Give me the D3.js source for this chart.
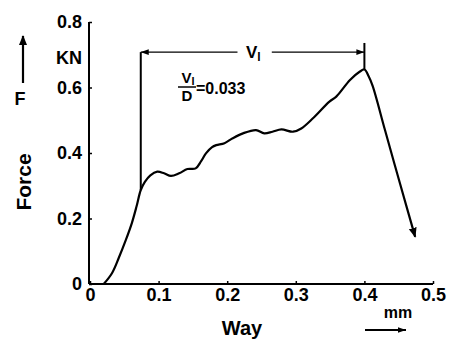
<!DOCTYPE html>
<html>
<head>
<meta charset="utf-8">
<script src="https://cdn.jsdelivr.net/npm/d3@7"></script>
<style>
  html, body { margin: 0; padding: 0; background: #fff; }
  svg { display: block; }
  text { font-family: "Liberation Sans", Arial, Helvetica, sans-serif; fill: #000; }
</style>
</head>
<body>
<svg id="chart" width="464" height="341"></svg>
<script>
// ---- data ----
const xTicks = [0, 0.1, 0.2, 0.3, 0.4, 0.5];
const xTickLabels = ["0", "0.1", "0.2", "0.3", "0.4", "0.5"];
const yTicks = [0, 0.2, 0.4, 0.6, 0.8];
const yTickLabels = ["0", "0.2", "0.4", "0.6", "0.8"];
const way = [0.020, 0.032, 0.042, 0.052, 0.061, 0.068, 0.074, 0.080, 0.088, 0.098, 0.108, 0.118, 0.130, 0.142, 0.154, 0.162, 0.169, 0.178, 0.184, 0.196, 0.208, 0.223, 0.242, 0.254, 0.266, 0.279, 0.296, 0.308, 0.325, 0.349, 0.359, 0.379, 0.393, 0.400, 0.406, 0.412, 0.430, 0.452, 0.474];
const force = [0.000, 0.033, 0.080, 0.133, 0.186, 0.238, 0.287, 0.312, 0.332, 0.343, 0.338, 0.330, 0.338, 0.351, 0.353, 0.375, 0.399, 0.418, 0.424, 0.430, 0.445, 0.460, 0.470, 0.460, 0.465, 0.472, 0.465, 0.475, 0.506, 0.557, 0.572, 0.623, 0.648, 0.655, 0.635, 0.605, 0.470, 0.306, 0.144];
const v1Start = 0.074, v1End = 0.400;
const v1StartForce = 0.287, v1EndForce = 0.655;
const v1LineForce = 0.708, v1TopForce = 0.736;
const ratioText = "=0.033";

// ---- layout ----
const svg = d3.select("#chart");
const x = d3.scaleLinear().domain([0, 0.5]).range([90, 433]);
const y = d3.scaleLinear().domain([0, 0.8]).range([284, 22]);

const defs = svg.append("defs");
defs.append("marker")
  .attr("id", "arr").attr("viewBox", "0 0 10 10").attr("refX", 9).attr("refY", 5)
  .attr("markerWidth", 10).attr("markerHeight", 10).attr("markerUnits", "userSpaceOnUse")
  .attr("orient", "auto-start-reverse")
  .append("path").attr("d", "M0,1 L10,5 L0,9 Z").attr("fill", "#000");
defs.append("marker")
  .attr("id", "arrS").attr("viewBox", "0 0 10 10").attr("refX", 10).attr("refY", 5)
  .attr("markerWidth", 8).attr("markerHeight", 8).attr("markerUnits", "userSpaceOnUse")
  .attr("orient", "auto-start-reverse")
  .append("path").attr("d", "M0,1.5 L10,5 L0,8.5 Z").attr("fill", "#000");

// axes
const xAxis = d3.axisBottom(x).tickValues(xTicks)
  .tickFormat((d, i) => xTickLabels[i]).tickSizeInner(-3).tickSizeOuter(0).tickPadding(4);
const gx = svg.append("g").attr("transform", `translate(0,${y(0)})`).call(xAxis);
gx.select(".domain").attr("stroke", "#000").attr("stroke-width", 2).attr("d", `M${x(0)-1},0H${x(0.5)}`);
gx.selectAll(".tick line").attr("stroke", "#000").attr("stroke-width", 1.5);
gx.selectAll("text").attr("font-size", 18).attr("font-weight", "bold")
  .attr("font-family", "Liberation Sans, Arial, sans-serif").attr("fill", "#000");

const yAxis = d3.axisLeft(y).tickValues(yTicks)
  .tickFormat((d, i) => yTickLabels[i]).tickSizeInner(-3).tickSizeOuter(0).tickPadding(7);
const gy = svg.append("g").attr("transform", `translate(${x(0)-1},0)`).call(yAxis);
gy.select(".domain").attr("stroke", "#000").attr("stroke-width", 2).attr("d", `M0,${y(0.8)}V${y(0)}`);
gy.selectAll(".tick line").attr("stroke", "#000").attr("stroke-width", 1.5);
gy.selectAll("text").attr("font-size", 18).attr("font-weight", "bold")
  .attr("font-family", "Liberation Sans, Arial, sans-serif").attr("fill", "#000");

// unit labels
svg.append("text").attr("x", 82).attr("y", 64).attr("text-anchor", "end")
  .attr("font-size", 18).attr("font-weight", "bold").text("KN");

// F arrow (y)
svg.append("line").attr("x1", 23).attr("y1", 83).attr("x2", 23).attr("y2", 36)
  .attr("stroke", "#000").attr("stroke-width", 2.2).attr("marker-end", "url(#arr)");
svg.append("text").attr("x", 20).attr("y", 105).attr("text-anchor", "middle")
  .attr("font-size", 18).attr("font-weight", "bold").text("F");
svg.append("text").attr("transform", "translate(31,182) rotate(-90)").attr("text-anchor", "middle")
  .attr("font-size", 21).attr("font-weight", "bold").text("Force");

// x labels
svg.append("text").attr("x", 242).attr("y", 335).attr("text-anchor", "middle")
  .attr("font-size", 20).attr("font-weight", "bold").text("Way");
svg.append("text").attr("x", 398).attr("y", 318).attr("text-anchor", "middle")
  .attr("font-size", 16).attr("font-weight", "bold").text("mm");
svg.append("line").attr("x1", 365).attr("y1", 330).attr("x2", 406).attr("y2", 330)
  .attr("stroke", "#000").attr("stroke-width", 2).attr("marker-end", "url(#arrS)");

// curve
const pts = way.map((w, i) => [w, force[i]]);
const line = d3.line().x(d => x(d[0])).y(d => y(d[1])).curve(d3.curveCatmullRom.alpha(0.5));
svg.append("path").attr("d", line(pts)).attr("fill", "none").attr("stroke", "#000")
  .attr("stroke-width", 2.2).attr("stroke-linejoin", "round").attr("marker-end", "url(#arr)");

// V1 annotation
svg.append("line").attr("x1", x(v1Start)).attr("x2", x(v1Start))
  .attr("y1", y(v1StartForce)).attr("y2", y(v1LineForce))
  .attr("stroke", "#000").attr("stroke-width", 2);
svg.append("line").attr("x1", x(v1End)).attr("x2", x(v1End))
  .attr("y1", y(v1EndForce)).attr("y2", y(v1TopForce))
  .attr("stroke", "#000").attr("stroke-width", 2);
svg.append("line").attr("x1", x(0.215)).attr("x2", x(v1Start))
  .attr("y1", y(v1LineForce)).attr("y2", y(v1LineForce))
  .attr("stroke", "#000").attr("stroke-width", 1.4).attr("marker-end", "url(#arrS)");
svg.append("line").attr("x1", x(0.265)).attr("x2", x(v1End))
  .attr("y1", y(v1LineForce)).attr("y2", y(v1LineForce))
  .attr("stroke", "#000").attr("stroke-width", 1.4).attr("marker-end", "url(#arrS)");
const vl = svg.append("text").attr("x", x(0.238)).attr("y", y(v1LineForce) + 6)
  .attr("text-anchor", "middle").attr("font-size", 17).attr("font-weight", "bold");
vl.append("tspan").text("V");
vl.append("tspan").attr("font-size", 12).attr("dy", 3).text("l");

// ratio
const fr = svg.append("text").attr("x", 188).attr("y", 83).attr("text-anchor", "middle")
  .attr("font-size", 15).attr("font-weight", "bold");
fr.append("tspan").text("V");
fr.append("tspan").attr("font-size", 11).attr("dy", 2).text("l");
svg.append("line").attr("x1", 178).attr("x2", 196).attr("y1", 87).attr("y2", 87)
  .attr("stroke", "#000").attr("stroke-width", 1.5);
svg.append("text").attr("x", 187).attr("y", 101).attr("text-anchor", "middle")
  .attr("font-size", 15).attr("font-weight", "bold").text("D");
svg.append("text").attr("x", 196).attr("y", 94).attr("font-size", 16)
  .attr("font-weight", "bold").text(ratioText);
</script>
</body>
</html>
